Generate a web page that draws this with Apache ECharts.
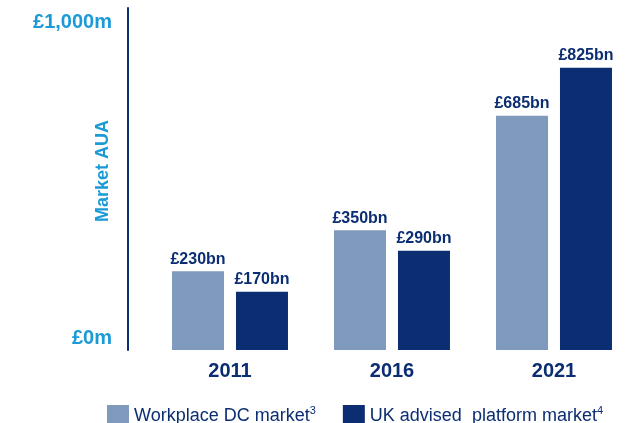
<!DOCTYPE html>
<html>
<head>
<meta charset="utf-8">
<script src="https://cdn.jsdelivr.net/npm/echarts@6/dist/echarts.min.js"></script>
<style>
  html, body { margin: 0; padding: 0; background: #fff; }
  #main { width: 635px; height: 423px; }
</style>
</head>
<body>
<div id="main"></div>
<script>
// data
var years = ['2011', '2016', '2021'];
var workplaceDC = [230, 350, 685];
var ukAdvised = [170, 290, 825];
var seriesNames = ['Workplace DC market', 'UK advised  platform market'];
var seriesSups = ['3', '4'];

var cyan = '#1b9ad6';
var navy = '#0b2d72';
var light = '#7f9abd';

var myChart = echarts.init(document.getElementById('main'));

function barLabel() {
    return {
        show: true,
        position: 'top',
        distance: 4,
        color: navy,
        fontWeight: 'bold',
        fontSize: 16,
        fontFamily: 'Liberation Sans',
        formatter: function (p) { return '£' + p.value + 'bn'; }
    };
}

var option = {
    animation: false,
    textStyle: { fontFamily: 'Liberation Sans' },
    grid: { left: 149, right: 0, top: 8, bottom: 73 },
    legend: {
        left: 102,
        top: 400,
        itemWidth: 22,
        itemHeight: 22,
        itemGap: 27,
        icon: 'rect',
        textStyle: {
            color: navy,
            fontSize: 18,
            fontFamily: 'Liberation Sans',
            rich: {
                txt: { fontSize: 18, color: navy, lineHeight: 22 },
                sup: { fontSize: 11, color: navy, verticalAlign: 'top', lineHeight: 22 }
            }
        },
        formatter: function (name) {
            var i = seriesNames.indexOf(name);
            return '{txt|' + name + '}{sup|' + seriesSups[i] + '}';
        }
    },
    xAxis: {
        type: 'category',
        data: years,
        axisLine: { show: false },
        axisTick: { show: false },
        axisLabel: {
            color: navy,
            fontWeight: 'bold',
            fontSize: 20,
            margin: 11
        }
    },
    yAxis: {
        type: 'value',
        min: 0,
        max: 1000,
        interval: 1000,
        offset: 21,
        name: 'Market AUA',
        nameLocation: 'middle',
        nameRotate: 90,
        nameGap: 16,
        nameMoveOverlap: false,
        nameTextStyle: { color: cyan, fontWeight: 'bold', fontSize: 18, padding: [0, 0, 0, 16] },
        splitLine: { show: false },
        axisTick: { show: false },
        axisLine: { show: true, lineStyle: { color: navy, width: 2 } },
        axisLabel: {
            margin: 16,
            formatter: function (v) {
                return v === 0 ? '{bot|£0m}' : '{top|£1,000m}';
            },
            rich: {
                top: { color: cyan, fontWeight: 'bold', fontSize: 20, padding: [28, 0, 0, 0] },
                bot: { color: cyan, fontWeight: 'bold', fontSize: 20, padding: [0, 0, 24, 0] }
            }
        }
    },
    series: [
        {
            name: seriesNames[0],
            type: 'bar',
            data: workplaceDC,
            barWidth: 52,
            barGap: '23%',
            itemStyle: { color: light },
            label: barLabel()
        },
        {
            name: seriesNames[1],
            type: 'bar',
            data: ukAdvised,
            barWidth: 52,
            itemStyle: { color: navy },
            label: barLabel()
        }
    ]
};
option && myChart.setOption(option);
</script>
</body>
</html>
